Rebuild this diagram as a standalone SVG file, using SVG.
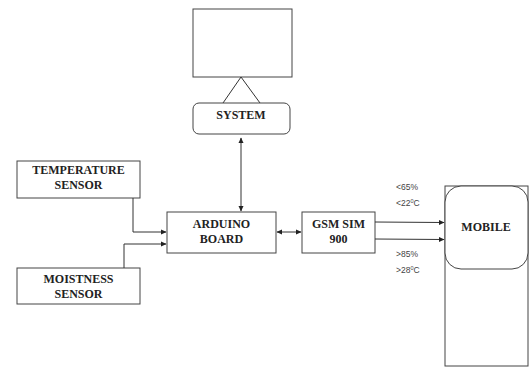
<svg xmlns="http://www.w3.org/2000/svg" width="529" height="367" viewBox="0 0 529 367">
<style>
.box{fill:#fff;stroke:#444;stroke-width:1}
.lbl{font-family:"Liberation Serif",serif;font-weight:bold;font-size:12px;fill:#222;text-anchor:middle}
.sm{font-family:"Liberation Sans",sans-serif;font-size:8.5px;fill:#444}
.ln{fill:none;stroke:#333;stroke-width:1}
</style>
<defs>
<marker id="ah" markerWidth="6" markerHeight="6" refX="5" refY="3" orient="auto" markerUnits="userSpaceOnUse">
<path d="M0,0.5 L5.5,3 L0,5.5 Z" fill="#222"/>
</marker>
<marker id="as" markerWidth="6" markerHeight="6" refX="1" refY="3" orient="auto" markerUnits="userSpaceOnUse">
<path d="M6,0.5 L0.5,3 L6,5.5 Z" fill="#222"/>
</marker>
</defs>
<rect width="529" height="367" fill="#fff"/>
<g id="monitor">
<rect class="box" x="193" y="9" width="99" height="68"/>
<path class="ln" d="M223,103 L241,77 L260,103"/>
</g>
<g id="system">
<rect class="box" x="193" y="103" width="97" height="31" rx="6"/>
<text class="lbl" x="241" y="119">SYSTEM</text>
</g>
<g id="temperature">
<rect class="box" x="17" y="161" width="123" height="37"/>
<text class="lbl" x="78.5" y="174">TEMPERATURE</text>
<text class="lbl" x="78.5" y="189">SENSOR</text>
</g>
<g id="moistness">
<rect class="box" x="17" y="268" width="123" height="36"/>
<text class="lbl" x="78.5" y="283">MOISTNESS</text>
<text class="lbl" x="78.5" y="298">SENSOR</text>
</g>
<g id="arduino">
<rect class="box" x="167" y="212" width="109" height="41"/>
<text class="lbl" x="221.5" y="228">ARDUINO</text>
<text class="lbl" x="221.5" y="243">BOARD</text>
</g>
<g id="gsm">
<rect class="box" x="302" y="212" width="73" height="41"/>
<text class="lbl" x="338.5" y="228">GSM SIM</text>
<text class="lbl" x="338.5" y="243">900</text>
</g>
<g id="mobile">
<rect class="box" x="445" y="186" width="83" height="180"/>
<rect class="box" x="445" y="186" width="83" height="83" rx="16"/>
<text class="lbl" x="486" y="231">MOBILE</text>
</g>
<g id="connectors">
<path class="ln" d="M133,198 V232 H166" marker-end="url(#ah)"/>
<path class="ln" d="M124,268 V244 H166" marker-end="url(#ah)"/>
<path class="ln" d="M241,138 V211" marker-start="url(#as)" marker-end="url(#ah)"/>
<path class="ln" d="M277,232 H301" marker-start="url(#as)" marker-end="url(#ah)"/>
<path class="ln" d="M375,222 L444,222.5" marker-end="url(#ah)"/>
<path class="ln" d="M375,239 L444,239.5" marker-end="url(#ah)"/>
</g>
<g id="labels">
<text class="sm" x="396" y="190">&lt;65%</text>
<text class="sm" x="396" y="206">&lt;22<tspan font-size="5.5" dy="-3">0</tspan><tspan dy="3">C</tspan></text>
<text class="sm" x="396" y="257">&gt;85%</text>
<text class="sm" x="396" y="273">&gt;28<tspan font-size="5.5" dy="-3">0</tspan><tspan dy="3">C</tspan></text>
</g>
</svg>
